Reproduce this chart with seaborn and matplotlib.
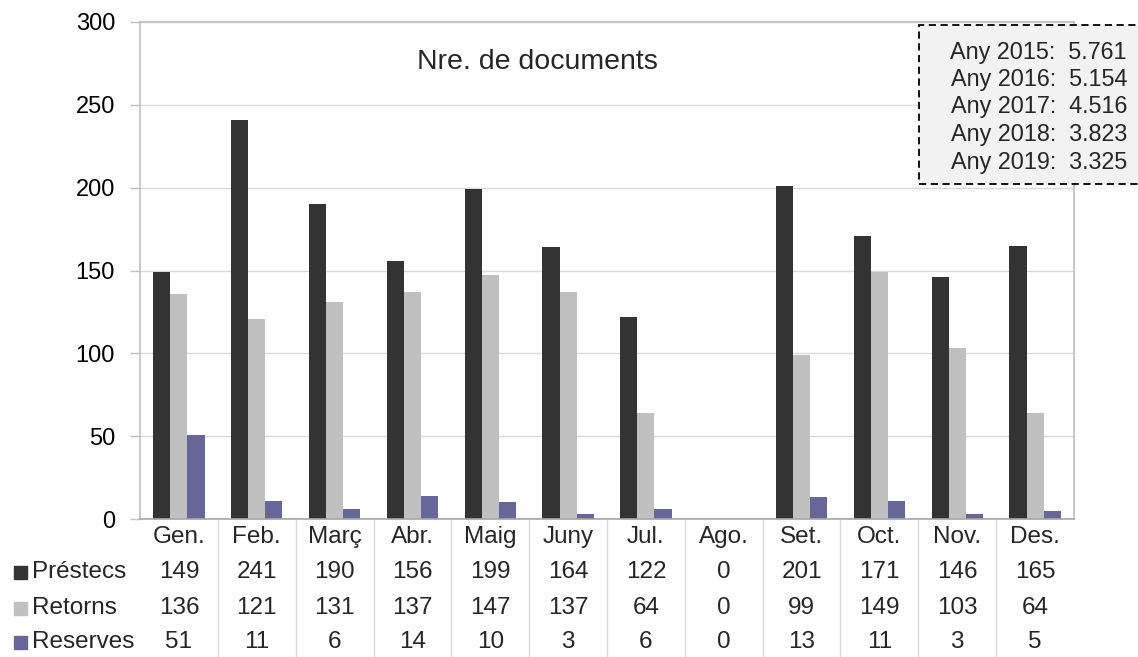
import numpy as np
import pandas as pd
import matplotlib
matplotlib.use('Agg')
import matplotlib.pyplot as plt
import matplotlib.transforms as mtransforms
from matplotlib.patches import Rectangle
import seaborn as sns

# Dades
mesos     = ['Gen.', 'Feb.', 'Març', 'Abr.', 'Maig', 'Juny', 'Jul.', 'Ago.', 'Set.', 'Oct.', 'Nov.', 'Des.']
prestecs  = [149, 241, 190, 156, 199, 164, 122, 0, 201, 171, 146, 165]
retorns   = [136, 121, 131, 137, 147, 137, 64, 0, 99, 149, 103, 64]
reserves  = [51, 11, 6, 14, 10, 3, 6, 0, 13, 11, 3, 5]
series    = ['Préstecs', 'Retorns', 'Reserves']
colors    = ['#333333', '#c0c0c0', '#666699']
anys      = ['Any 2015:', 'Any 2016:', 'Any 2017:', 'Any 2018:', 'Any 2019:']
totals    = ['5.761', '5.154', '4.516', '3.823', '3.325']

df = pd.DataFrame({
    'mes': mesos * 3,
    'serie': sum([[s] * len(mesos) for s in series], []),
    'valor': prestecs + retorns + reserves,
})

sns.set_theme(style='white')
plt.rcParams['font.family'] = ['Liberation Sans', 'DejaVu Sans']

W, H = 1138, 657
FS = 17.5
fig = plt.figure(figsize=(W / 100, H / 100), dpi=100)
ax = fig.add_axes([140 / W, 1 - 519 / H, 934 / W, 497 / H])

sns.barplot(data=df, x='mes', y='valor', hue='serie', order=mesos, hue_order=series,
            palette=colors, width=0.66, gap=0, saturation=1, legend=False, ax=ax,
            edgecolor='none', linewidth=0)

ax.set_ylim(0, 300)
ax.set_xlim(-0.5, len(mesos) - 0.5)
ax.set_yticks(np.arange(0, 301, 50))
ax.yaxis.grid(True, color='#d9d9d9', linewidth=1)
ax.set_axisbelow(True)
ax.set_xlabel('')
ax.set_ylabel('')
ax.set_xticks([])
ax.tick_params(axis='y', labelsize=17, length=7, width=1, color='#bfbfbf', pad=11,
               left=True, labelcolor='black')
for s in ax.spines.values():
    s.set_visible(True)
    s.set_color('#bfbfbf')
    s.set_linewidth(1.2)
ax.spines['bottom'].set_color('#a6a6a6')

# Títol
fig.text(537 / W, 1 - 62 / H, 'Nre. de documents', ha='center', va='center', fontsize=20.5)

# Taula de dades
trans = mtransforms.blended_transform_factory(ax.transData, fig.transFigure)
row_y = [537, 572, 608, 642]
for i, m in enumerate(mesos):
    ax.text(i, 1 - row_y[0] / H, m, transform=trans, ha='center', va='center', fontsize=FS)
    for r, vals in enumerate([prestecs, retorns, reserves]):
        ax.text(i, 1 - row_y[r + 1] / H, str(vals[i]), transform=trans,
                ha='center', va='center', fontsize=FS)
for i in range(1, len(mesos)):
    ax.plot([i - 0.5, i - 0.5], [1 - 519 / H, 0], transform=trans, color='#d9d9d9',
            linewidth=1, clip_on=False)
for r, s in enumerate(series):
    yc = 1 - row_y[r + 1] / H
    fig.patches.append(Rectangle((14 / W, yc - 6.5 / H), 13 / W, 13 / H, color=colors[r],
                                 transform=fig.transFigure))
    fig.text(32 / W, yc, s, ha='left', va='center', fontsize=FS)

# Quadre de totals
box = Rectangle((919 / W, 1 - 184 / H), 240 / W, 159 / H, transform=fig.transFigure,
                facecolor='#f2f2f2', edgecolor='black', linestyle=(0, (4, 2.5)),
                linewidth=1.3)
fig.patches.append(box)
for k, (a, t) in enumerate(zip(anys, totals)):
    yk = 1 - (52 + 27.5 * k) / H
    fig.text(1127 / W, yk, a + '  ' + t, ha='right', va='center', fontsize=16.8)

fig.savefig('out.png', dpi=100)
